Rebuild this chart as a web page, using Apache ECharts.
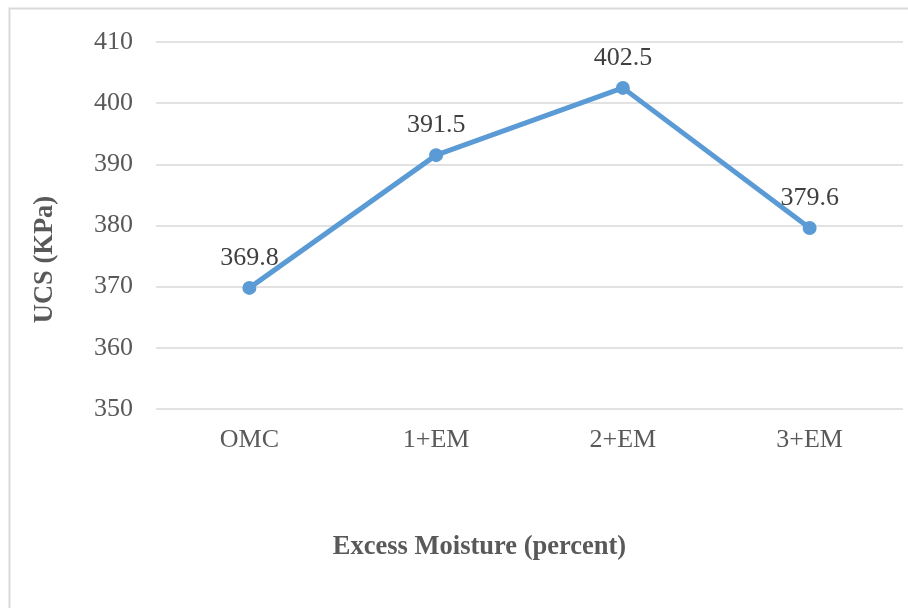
<!DOCTYPE html>
<html>
<head>
<meta charset="utf-8">
<script src="https://cdn.jsdelivr.net/npm/echarts@6/dist/echarts.min.js"></script>
<style>
  html, body { margin: 0; padding: 0; background: #fff; }
  #chart { width: 908px; height: 608px; }
</style>
</head>
<body>
<div id="chart"></div>
<script>
const categories = ['OMC', '1+EM', '2+EM', '3+EM'];
const ucsValues = [369.8, 391.5, 402.5, 379.6];
const xTitle = 'Excess Moisture (percent)';
const yTitle = 'UCS (KPa)';

const chart = echarts.init(document.getElementById('chart'));
const font = '"Liberation Serif", "Times New Roman", serif';

const option = {
  animation: false,
  backgroundColor: '#fff',
  textStyle: { fontFamily: font },
  graphic: [
    {
      type: 'rect',
      shape: { x: 9.5, y: 8.5, width: 1000, height: 1000 },
      style: { fill: 'none', stroke: '#d9d9d9', lineWidth: 2 },
      silent: true
    }
  ],
  grid: { left: 156, right: 5, top: 42, bottom: 199 },
  xAxis: {
    type: 'category',
    data: categories,
    boundaryGap: true,
    axisLine: { show: false },
    axisTick: { show: false },
    axisLabel: { color: '#595959', fontSize: 26, fontFamily: font, margin: 18 },
    name: xTitle,
    nameLocation: 'middle',
    nameGap: 125,
    nameTextStyle: {
      color: '#595959', fontSize: 26.5, fontWeight: 'bold', fontFamily: font,
      padding: [0, 100, 0, 0]
    }
  },
  yAxis: {
    type: 'value',
    min: 350,
    max: 410,
    interval: 10,
    axisLine: { show: false },
    axisTick: { show: false },
    splitLine: { lineStyle: { color: '#d9d9d9', width: 1.5 } },
    axisLabel: { color: '#595959', fontSize: 26, fontFamily: font, margin: 23 },
    name: yTitle,
    nameLocation: 'middle',
    nameGap: 97,
    nameRotate: 90,
    nameTextStyle: {
      color: '#595959', fontSize: 26.5, fontWeight: 'bold', fontFamily: font,
      padding: [0, 68, 0, 0]
    }
  },
  series: [
    {
      type: 'line',
      data: ucsValues,
      symbol: 'circle',
      symbolSize: 14,
      lineStyle: { color: '#5b9bd5', width: 5 },
      itemStyle: { color: '#5b9bd5' },
      label: {
        show: true,
        position: 'top',
        distance: 10,
        color: '#404040',
        fontSize: 26,
        fontFamily: font
      }
    }
  ]
};

chart.setOption(option);
</script>
</body>
</html>
